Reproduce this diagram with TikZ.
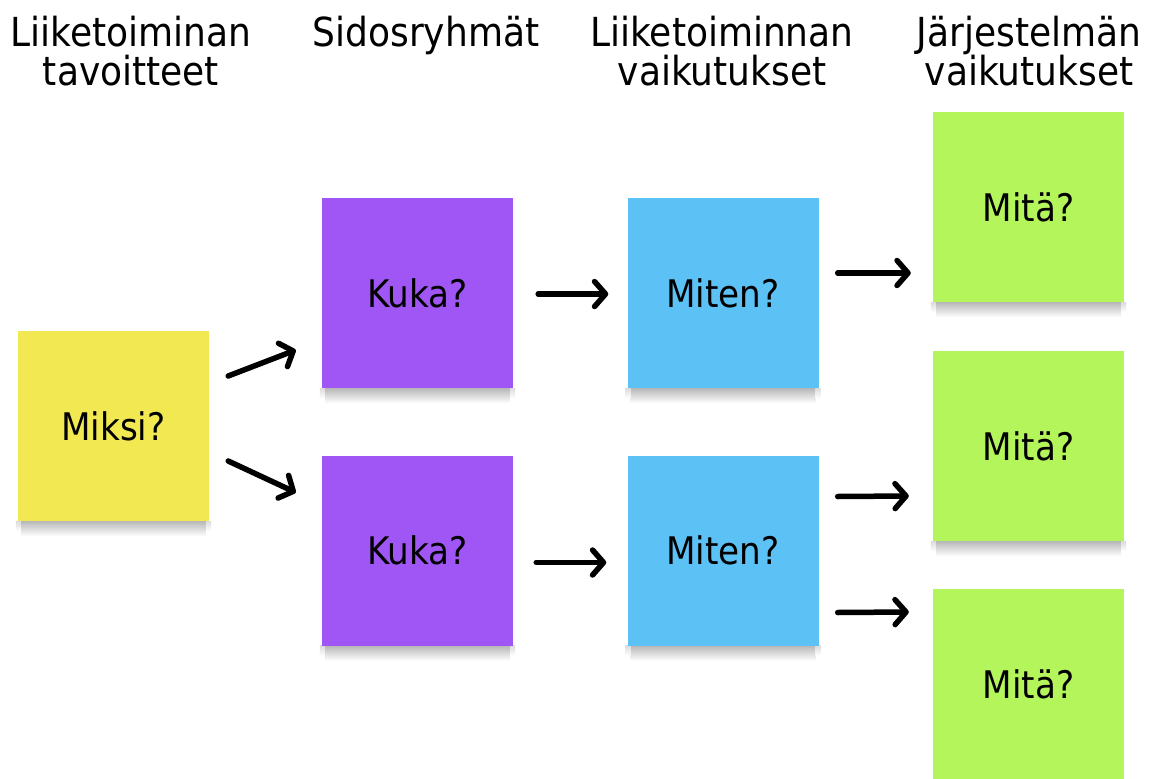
\documentclass[tikz,border=0pt]{standalone}
\usepackage{fontspec}
\setmainfont{DejaVu Sans Condensed}
\usetikzlibrary{arrows.meta,calc,backgrounds}
\definecolor{noteyellow}{RGB}{242,232,82}
\definecolor{notepurple}{RGB}{160,86,244}
\definecolor{noteblue}{RGB}{92,194,245}
\definecolor{notegreen}{RGB}{181,245,92}
\newcommand{\noteshadow}[1]{%
  \shade[top color=black!28,bottom color=white]
    ($(#1.south west)+(3,0)$) rectangle ($(#1.south east)+(-3,15)$);
  \shade[top color=black!14,bottom color=white]
    ($(#1.south west)+(-2,0)$) rectangle ($(#1.south west)+(3,10)$);
  \shade[top color=black!14,bottom color=white]
    ($(#1.south east)+(-3,0)$) rectangle ($(#1.south east)+(2,10)$);}
\begin{document}
\begin{tikzpicture}[x=1pt,y=-1pt,
  note/.style={minimum width=191pt,minimum height=190pt,inner sep=0pt,
    font=\fontsize{38}{44}\selectfont},
  header/.style={align=center,font=\fontsize{40}{39}\selectfont,anchor=base,inner sep=0pt},
  flow/.style={line width=5.5pt,line cap=round,line join=round,
    -{Straight Barb[length=11pt,width=25pt,line width=5.5pt,round]}}]
\useasboundingbox (0,0) rectangle (1160,779);

% column headings (anchored at the baseline of the last line)
\node[header] (h1) at (131,85) {Liiketoiminan\\tavoitteet};
\node[header] (h2) at (426,46) {Sidosryhmät};
\node[header] (h3) at (722,85) {Liiketoiminnan\\vaikutukset};
\node[header] (h4) at (1029,85) {Järjestelmän\\vaikutukset};

% sticky notes
\node[note,fill=noteyellow] (miksi) at (113.5,426) {Miksi?};
\node[note,fill=notepurple] (kuka1) at (417.5,293) {Kuka?};
\node[note,fill=notepurple] (kuka2) at (417.5,550.5) {Kuka?};
\node[note,fill=noteblue] (miten1) at (723,293) {Miten?};
\node[note,fill=noteblue] (miten2) at (723,550.5) {Miten?};
\node[note,fill=notegreen] (mita1) at (1028.5,207) {Mitä?};
\node[note,fill=notegreen] (mita2) at (1028.5,446) {Mitä?};
\node[note,fill=notegreen] (mita3) at (1028.5,684) {Mitä?};

% white page and soft shadows under the notes
\begin{scope}[on background layer]
  \fill[white] (0,0) rectangle (1160,779);
  \foreach \n in {miksi,kuka1,kuka2,miten1,miten2,mita1,mita2} {\noteshadow{\n}}
\end{scope}

% arrow end points, set off from the notes
\coordinate (a1s) at ($(miksi.east)+(19,-50)$);
\coordinate (a1e) at ($(kuka1.west)+(-26,57)$);
\coordinate (a2s) at ($(miksi.east)+(19,35)$);
\coordinate (a2e) at ($(kuka2.west)+(-26,-58)$);
\coordinate (b1s) at ($(kuka1.east)+(25,1)$);
\coordinate (b1e) at ($(miten1.west)+(-19,1)$);
\coordinate (b2s) at ($(kuka2.east)+(23,12)$);
\coordinate (b2e) at ($(miten2.west)+(-21,12)$);
\coordinate (c1s) at ($(miten1.east)+(19,-20)$);
\coordinate (c1e) at ($(mita1.west)+(-22,66)$);
\coordinate (c2s) at ($(miten2.east)+(19,-54)$);
\coordinate (c2e) at ($(mita2.west)+(-24,50)$);
\coordinate (c3s) at ($(miten2.east)+(19,62)$);
\coordinate (c3e) at ($(mita3.west)+(-24,-72)$);

\draw[flow] (a1s) -- (a1e);
\draw[flow] (a2s) -- (a2e);
\draw[flow] (b1s) -- (b1e);
\draw[flow] (b2s) -- (b2e);
\draw[flow] (c1s) -- (c1e);
\draw[flow] (c2s) -- (c2e);
\draw[flow] (c3s) -- (c3e);
\end{tikzpicture}
\end{document}
